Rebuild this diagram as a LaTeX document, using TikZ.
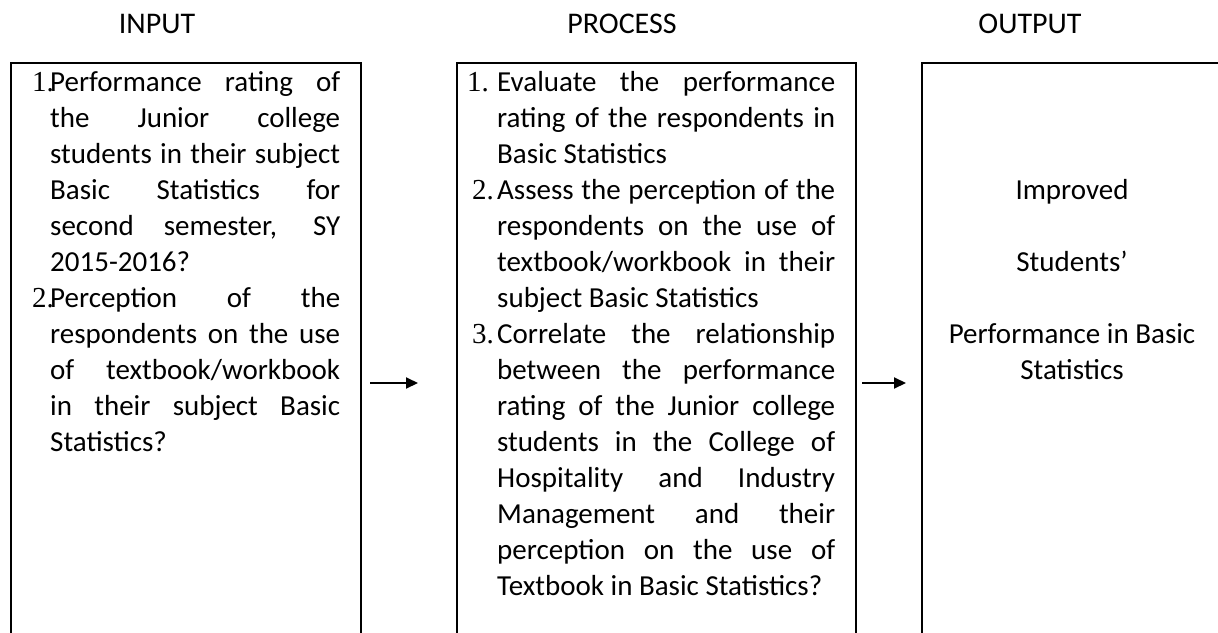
\documentclass[tikz,border=0pt]{standalone}
\usepackage{fontspec}
\setmainfont{Carlito}
\newfontfamily\numfont{Liberation Serif}
\usetikzlibrary{arrows.meta}
\hbadness=10000
\hfuzz=20pt
\newcommand{\bodyfont}{\fontsize{29}{36}\selectfont}
\begin{document}
\begin{tikzpicture}[x=1pt,y=-1pt,
  box/.style={draw, line width=2pt, rectangle, anchor=north west, inner sep=0pt},
  flow/.style={line width=2pt, -{Triangle[length=12pt,width=11pt]}},
  head/.style={font=\fontsize{30}{36}\selectfont, inner sep=0pt, anchor=base},
  txt/.style={inner sep=0pt, anchor=base west},
  ctr/.style={font=\bodyfont, inner sep=0pt, anchor=base}]
\clip (0,0) rectangle (1218,632);
\fill[white] (0,0) rectangle (1218,632);
% headers
\node[head] (hin) at (157,33) {INPUT};
\node[head] (hpr) at (622,33) {PROCESS};
\node[head] (hout) at (1030,33) {OUTPUT};
% boxes
\node[box, minimum width=350pt, minimum height=700pt] (inbox) at (10,62) {};
\node[box, minimum width=399pt, minimum height=700pt] (prbox) at (456,62) {};
\node[box, minimum width=420pt, minimum height=700pt] (outbox) at (921,62) {};
% input text
\node[txt] (intext) at (32,91) {\begin{minipage}[t]{308pt}\bodyfont\setlength{\parindent}{0pt}%
\hangindent=18pt\hangafter=1\makebox[18pt][l]{\numfont 1.}Performance rating of\linebreak
the Junior college\linebreak
students in their subject\linebreak
Basic Statistics for\linebreak
second semester, SY\linebreak
2015-2016?\par
\hangindent=18pt\hangafter=1\makebox[18pt][l]{\numfont 2.}Perception of the\linebreak
respondents on the use\linebreak
of textbook/workbook\linebreak
in their subject Basic\linebreak
Statistics?\par
\end{minipage}};
% process text
\node[txt] (prtext) at (467,91) {\begin{minipage}[t]{368pt}\bodyfont\setlength{\parindent}{0pt}%
\hangindent=30pt\hangafter=1\makebox[30pt][l]{\numfont 1.}Evaluate the performance\linebreak
rating of the respondents in\linebreak
Basic Statistics\par
\hangindent=30pt\hangafter=1\makebox[30pt][l]{\hspace{5pt}\numfont 2.}Assess the perception of the\linebreak
respondents on the use of\linebreak
textbook/workbook in their\linebreak
subject Basic Statistics\par
\hangindent=30pt\hangafter=1\makebox[30pt][l]{\hspace{5pt}\numfont 3.}Correlate the relationship\linebreak
between the performance\linebreak
rating of the Junior college\linebreak
students in the College of\linebreak
Hospitality and Industry\linebreak
Management and their\linebreak
perception on the use of\linebreak
Textbook in Basic Statistics?\par
\end{minipage}};
% output text
\node[ctr] (o1) at (1072,199) {Improved};
\node[ctr] (o2) at (1072,271) {Students’};
\node[ctr] (o3) at (1072,343) {Performance in Basic};
\node[ctr] (o4) at (1072,379) {Statistics};
% arrows
\coordinate (a1s) at (370,383);
\coordinate (a1e) at (418,383);
\coordinate (a2s) at (862,383);
\coordinate (a2e) at (906,383);
\draw[flow] (a1s) -- (a1e);
\draw[flow] (a2s) -- (a2e);
\end{tikzpicture}
\end{document}
